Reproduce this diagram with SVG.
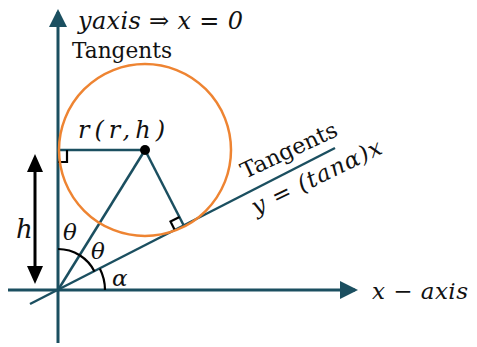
<svg xmlns="http://www.w3.org/2000/svg" width="477" height="347" viewBox="0 0 477 347">
<style>
.ax{stroke:#1B4F60;stroke-width:3;fill:none}
.ln{stroke:#1B4F60;stroke-width:2.5;fill:none}
.blk{stroke:#000;stroke-width:2.2;fill:none}
.m{font-family:"DejaVu Serif","Liberation Serif",serif;font-style:italic;fill:#111}
.t{font-family:"DejaVu Serif","Liberation Serif",serif;fill:#111}
</style>
<defs>
<marker id="ta" markerWidth="6" markerHeight="6" refX="5" refY="3" orient="auto" markerUnits="strokeWidth"><path d="M0,0 L6,3 L0,6 z" fill="#1B4F60"/></marker>
</defs>
<g id="connectors">
<line class="ax" x1="58" y1="343" x2="58" y2="12" marker-end="url(#ta)"/>
<line class="ax" x1="8" y1="290" x2="355" y2="290" marker-end="url(#ta)"/>
<line class="ln" x1="30" y1="304" x2="335" y2="148"/>
<line class="ln" x1="58" y1="150" x2="145" y2="150"/>
<line class="ln" x1="58" y1="290" x2="145" y2="150"/>
<line class="ln" x1="145" y1="150" x2="184" y2="226"/>
<path class="blk" d="M58,162 H67 V150"/>
<path class="blk" d="M175,230.5 L170.5,221.5 L179.5,217"/>
<line stroke="#000" stroke-width="3" x1="35" y1="170" x2="35" y2="268"/>
<path d="M35,154 L43,172 L27,172 z M35,284 L43,266 L27,266 z" fill="#000"/>
<path class="blk" d="M58,249 A41,41 0 0 1 79.7,255.2"/>
<path class="blk" d="M79.7,255.2 A41,41 0 0 1 94.5,271.4"/>
<path class="blk" d="M99.9,268.7 A47,47 0 0 1 105,290"/>
</g>
<g id="circle"><circle cx="145" cy="150" r="86" fill="none" stroke="#EE8432" stroke-width="2.5"/><circle cx="145" cy="150" r="5" fill="#000"/></g>
<g id="labels">
<text class="m" x="78" y="29" font-size="24" textLength="165" lengthAdjust="spacing">yaxis ⇒ x = 0</text>
<text class="t" x="72" y="58" font-size="22" textLength="100" lengthAdjust="spacingAndGlyphs">Tangents</text>
<text class="m" x="78" y="138" font-size="24" textLength="87" lengthAdjust="spacing">r(r,h)</text>
<text class="m" x="16" y="238" font-size="26">h</text>
<text class="m" x="63" y="240" font-size="23">θ</text>
<text class="m" x="91" y="259" font-size="23">θ</text>
<text class="m" x="112" y="286" font-size="23">α</text>
<text class="m" x="372" y="299" font-size="23" textLength="96" lengthAdjust="spacing">x − axis</text>
<text class="t" x="0" y="0" font-size="22" textLength="104" lengthAdjust="spacingAndGlyphs" transform="translate(245,179) rotate(-25)">Tangents</text>
<text class="m" x="0" y="0" font-size="23" textLength="142" lengthAdjust="spacing" transform="translate(256,215) rotate(-26)">y = (tanα)x</text>
</g>
</svg>
